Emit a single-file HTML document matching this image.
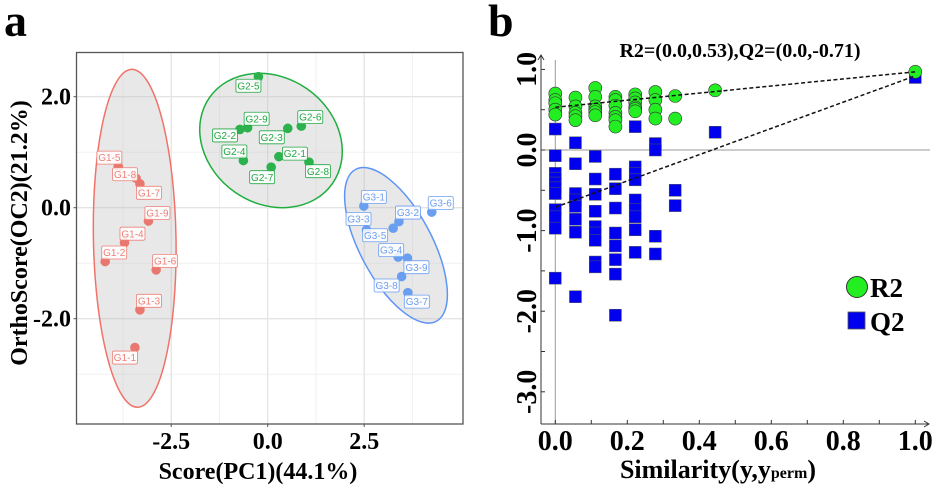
<!DOCTYPE html>
<html><head><meta charset="utf-8">
<style>
html,body{margin:0;padding:0;background:#fff;}
svg{display:block;}
svg text{font-family:"Liberation Serif","Times New Roman",serif;}
svg text.lab{font-family:"Liberation Sans",Arial,sans-serif;font-size:10px;}
</style></head>
<body>
<svg id="chart" width="935" height="486" viewBox="0 0 935 486" xmlns="http://www.w3.org/2000/svg">
<g id="panelA"></g>
<g id="panelB"></g>
</svg>
<script>
// ---------- Panel A data ----------
const aNames = ["G1-1","G1-2","G1-3","G1-4","G1-5","G1-6","G1-7","G1-8","G1-9",
 "G2-1","G2-2","G2-3","G2-4","G2-5","G2-6","G2-7","G2-8","G2-9",
 "G3-1","G3-2","G3-3","G3-4","G3-5","G3-6","G3-7","G3-8","G3-9"];
const aPC1 = [-3.44,-4.21,-3.31,-3.71,-3.87,-2.89,-3.31,-3.41,-3.09,
 0.29,-0.72,0.52,-0.63,-0.24,0.87,0.09,1.07,-0.52,
 2.49,3.40,2.56,3.38,3.25,4.25,3.63,3.47,3.62];
const aOC2 = [-2.52,-0.97,-1.84,-0.63,0.74,-1.12,0.43,0.53,-0.24,
 0.92,1.41,1.43,0.85,2.36,1.47,0.73,0.82,1.44,
 0.03,-0.25,-0.40,-0.89,-0.37,-0.08,-1.53,-1.24,-0.91];
const aXTicks = [-2.5, 0.0, 2.5];
const aYTicks = [2.0, 0.0, -2.0];
// label offsets (px) - styling
const aLabOff = [[-10,10],[9,-9],[9,-9],[8,-9],[-9,-9],[9,-9],[9,9],[-11,-4],[9,-8],
 [16,-3],[-15,6],[-16,9],[-9,-9],[-10,9],[9,-9],[-9,10],[9,9],[9,-9],
 [10,-9],[9,-9],[-8,-11],[-7,-7],[-18,7],[9,-9],[9,9],[-15,9],[9,9]];

// ---------- Panel B data ----------
const bSimX = [0, 0.056, 0.111, 0.167, 0.222, 0.278, 0.333, 0.444, 1.0];
const bR2 = [
 [0.70,0.62,0.58,0.50,0.44],
 [0.65,0.54,0.46,0.42,0.37],
 [0.77,0.66,0.54,0.50,0.47,0.43],
 [0.66,0.62,0.55,0.46,0.41,0.37,0.29],
 [0.69,0.64,0.59,0.53,0.51,0.48],
 [0.72,0.62,0.50,0.39],
 [0.67,0.39],
 [0.74],
 [0.97]];
const bQ2 = [
 [0.26,-0.07,-0.29,-0.35,-0.41,-0.47,-0.54,-0.74,-0.83,-0.97,-1.59],
 [0.09,-0.17,-0.54,-0.62,-0.70,-0.86,-1.02,-1.82],
 [-0.08,-0.36,-0.55,-0.76,-0.95,-1.03,-1.12,-1.39,-1.45],
 [-0.30,-0.48,-0.72,-1.03,-1.19,-1.36,-1.54,-2.05],
 [0.29,-0.21,-0.29,-0.37,-0.62,-0.74,-0.83,-0.99,-1.27],
 [0.08,0.00,-1.07,-1.29],
 [-0.50,-0.69],
 [0.22],
 [0.90]];
const bR2Line = [0.53, 0.97];
const bQ2Line = [-0.71, 0.92];
const bXTicks = [0.0,0.2,0.4,0.6,0.8,1.0];
const bYTicks = [1.0,0.0,-1.0,-2.0,-3.0];

const NS="http://www.w3.org/2000/svg";
const SERIF='"Liberation Serif", "Times New Roman", serif';
function mk(parent,tag,attrs,text){const e=document.createElementNS(NS,tag);for(const k in attrs)e.setAttribute(k,attrs[k]);if(tag==='text'&&!attrs.class)e.setAttribute('font-family',SERIF);if(text!==undefined)e.textContent=text;parent.appendChild(e);return e;}

// ---------- draw panel A ----------
const A=document.getElementById('panelA');
const ax=v=>267.7+v*38.6, ay=v=>207.7-v*55.5;
const L=76.5,R=463,T=52.5,B=424;
let t=mk(A,'text',{x:4,y:36,'font-size':46,'font-weight':'bold'},'a');


const grid=mk(A,'g',{});


[-3.75,-1.25,1.25,3.75].forEach(v=>mk(grid,'line',{x1:ax(v),x2:ax(v),y1:T,y2:B,stroke:'#f1f1f1','stroke-width':1}));
[1,-1,-3].forEach(v=>mk(grid,'line',{x1:L,x2:R,y1:ay(v),y2:ay(v),stroke:'#f1f1f1','stroke-width':1}));
aXTicks.forEach(v=>mk(grid,'line',{x1:ax(v),x2:ax(v),y1:T,y2:B,stroke:'#e4e4e4','stroke-width':1.3}));
aYTicks.forEach(v=>mk(grid,'line',{x1:L,x2:R,y1:ay(v),y2:ay(v),stroke:'#e4e4e4','stroke-width':1.3}));
const ells=[{cx:134.7,cy:238.3,rx:41.3,ry:169,rot:-1,c:'#f0736a',n:'g1-ellipse'},
 {cx:271,cy:140.5,rx:75,ry:63,rot:35,c:'#1fae3e',n:'g2-ellipse'},
 {cx:396,cy:245.3,rx:86,ry:36,rot:62,c:'#5e95f5',n:'g3-ellipse'}];
ells.forEach(e=>{const el=mk(A,'ellipse',{cx:e.cx,cy:e.cy,rx:e.rx,ry:e.ry,transform:`rotate(${e.rot} ${e.cx} ${e.cy})`,fill:'#bdbdbd','fill-opacity':0.35,stroke:e.c,'stroke-width':1.5});

});
const cols={G1:'#e8776f',G2:'#2bb24c',G3:'#6a9ef0'};
const tcols={G1:'#ef7f78',G2:'#22a944',G3:'#6d9ff2'};
aNames.forEach((n,i)=>{const g=n.slice(0,2);const px=ax(aPC1[i]),py=ay(aOC2[i]);
 const c=mk(A,'circle',{cx:px,cy:py,r:4.8,fill:cols[g]});
 
 
});
aNames.forEach((n,i)=>{const g=n.slice(0,2);const px=ax(aPC1[i])+aLabOff[i][0],py=ay(aOC2[i])+aLabOff[i][1];
 const lg=mk(A,'g',{});
 
 
 mk(lg,'rect',{x:px-12.5,y:py-6.5,width:25,height:13,rx:1.5,fill:'#fff','fill-opacity':0.85,stroke:tcols[g],'stroke-width':0.8});
 mk(lg,'text',{x:px,y:py+3.6,'text-anchor':'middle',fill:tcols[g],class:'lab','font-family':'"Liberation Sans", Arial, sans-serif','font-size':10},n);
});
mk(A,'rect',{x:L,y:T,width:R-L,height:B-T,fill:'none',stroke:'#555','stroke-width':1.3});
aXTicks.forEach(v=>{mk(A,'line',{x1:ax(v),x2:ax(v),y1:B,y2:B+3,stroke:'#555'});
 const tt=mk(A,'text',{x:ax(v),y:449,'text-anchor':'middle','font-size':24,'font-weight':'bold'},v.toFixed(1));
 
 });
aYTicks.forEach(v=>{mk(A,'line',{x1:L-3,x2:L,y1:ay(v),y2:ay(v),stroke:'#555'});
 const tt=mk(A,'text',{x:71,y:ay(v)+8,'text-anchor':'end','font-size':24,'font-weight':'bold'},v.toFixed(1));
 
 });
t=mk(A,'text',{x:258,y:479,'text-anchor':'middle','font-size':24,'font-weight':'bold'},'Score(PC1)(44.1%)');


t=mk(A,'text',{x:0,y:0,transform:'translate(27,233) rotate(-90)','text-anchor':'middle','font-size':24,'font-weight':'bold'},'OrthoScore(OC2)(21.2%)');



// ---------- draw panel B ----------
const P=document.getElementById('panelB');
const bx=v=>555.3+v*360, by=v=>150-v*80.6;
t=mk(P,'text',{x:488,y:36,'font-size':46,'font-weight':'bold'},'b');


mk(P,'line',{x1:541,x2:930,y1:150,y2:150,stroke:'#999','stroke-width':1});
mk(P,'line',{x1:555.3,x2:555.3,y1:60,y2:424,stroke:'#999','stroke-width':1});
mk(P,'line',{x1:541,x2:541,y1:56,y2:424,stroke:'#333','stroke-width':1});
mk(P,'path',{d:'M538,60 L541,55 L544,60',fill:'none',stroke:'#333'});
mk(P,'line',{x1:541,x2:928,y1:424,y2:424,stroke:'#333','stroke-width':1});
mk(P,'path',{d:'M924,421 L929,424 L924,427',fill:'none',stroke:'#333'});
for(let v=1.0;v>=-3.25;v-=0.5){mk(P,'line',{x1:541,x2:545,y1:by(v),y2:by(v),stroke:'#333'});}
for(let v=0;v<=1.01;v+=0.1){mk(P,'line',{x1:bx(v),x2:bx(v),y1:424,y2:420,stroke:'#333'});}
bYTicks.forEach(v=>{const tt=mk(P,'text',{x:0,y:0,transform:`translate(536,${by(v)}) rotate(-90)`,'text-anchor':'middle','font-size':28,'font-weight':'bold'},v.toFixed(1));
 
 });
bXTicks.forEach(v=>{const tt=mk(P,'text',{x:bx(v),y:450,'text-anchor':'middle','font-size':28,'font-weight':'bold'},v.toFixed(1));
 
 });
t=mk(P,'text',{x:718,y:478,'text-anchor':'middle','font-size':26,'font-weight':'bold'});
t.appendChild(document.createTextNode('Similarity(y,y'));
const ts=document.createElementNS(NS,'tspan');ts.setAttribute('font-size','16');ts.textContent='perm';t.appendChild(ts);
t.appendChild(document.createTextNode(')'));


t=mk(P,'text',{x:740,y:57,'text-anchor':'middle','font-size':20,'font-weight':'bold'},'R2=(0.0,0.53),Q2=(0.0,-0.71)');


bSimX.forEach((sx,i)=>{bQ2[i].forEach(q=>{const s=mk(P,'rect',{x:bx(sx)-6,y:by(q)-6,width:12,height:12,fill:'#0000ee',stroke:'#555','stroke-width':0.5});
 
 });});
bSimX.forEach((sx,i)=>{bR2[i].forEach(r=>{const c=mk(P,'circle',{cx:bx(sx),cy:by(r),r:6.5,fill:'#22ee22',stroke:'#333','stroke-width':0.6});
 
 });});
let ln=mk(P,'line',{x1:bx(0),y1:by(bR2Line[0]),x2:bx(1),y2:by(bR2Line[1]),stroke:'#111','stroke-width':1.5,'stroke-dasharray':'4,2.5'});


ln=mk(P,'line',{x1:bx(0),y1:by(bQ2Line[0]),x2:bx(1),y2:by(bQ2Line[1]),stroke:'#111','stroke-width':1.5,'stroke-dasharray':'4,2.5'});


const lg=mk(P,'g',{});


let le=mk(lg,'g',{});


mk(le,'circle',{cx:857,cy:287,r:10.5,fill:'#22ee22',stroke:'#333','stroke-width':1});
mk(le,'text',{x:870,y:297,'font-size':27,'font-weight':'bold'},'R2');
le=mk(lg,'g',{});


mk(le,'rect',{x:848,y:312,width:17,height:17,fill:'#0000ee',stroke:'#555','stroke-width':0.8});
mk(le,'text',{x:870,y:331,'font-size':27,'font-weight':'bold'},'Q2');
</script>
</body></html>
